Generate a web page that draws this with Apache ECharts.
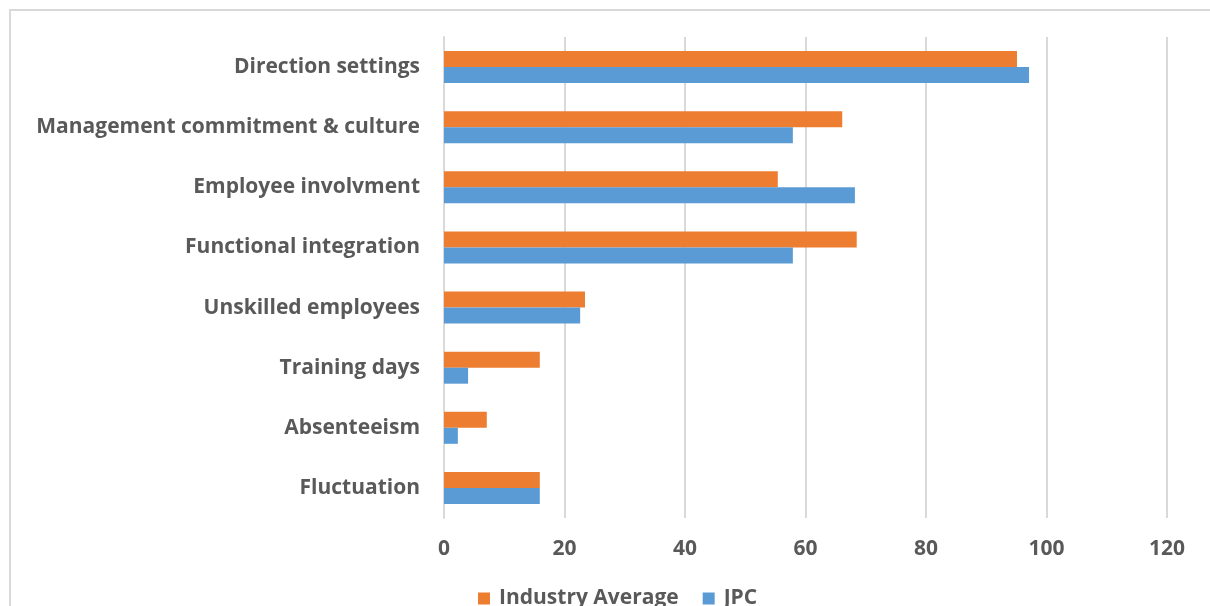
<!DOCTYPE html>
<html>
<head>
<meta charset="utf-8">
<script src="https://cdn.jsdelivr.net/npm/echarts@6/dist/echarts.min.js"></script>
<style>
  html, body { margin: 0; padding: 0; background: #fff; overflow: hidden; }
  .frame {
    position: absolute; left: 9px; top: 9px;
    width: 1220px; height: 620px;
    border: 2px solid #d9d9d9;
  }
  #chart { position: absolute; left: 0; top: 0; width: 1210px; height: 606px; }
</style>
</head>
<body>
<div class="frame"></div>
<div id="chart"></div>
<script>
// categories, top to bottom
const categories = [
  "Direction settings",
  "Management commitment & culture",
  "Employee involvment",
  "Functional integration",
  "Unskilled employees",
  "Training days",
  "Absenteeism",
  "Fluctuation",
];
const industryAverage = [95.1, 66.1, 55.4, 68.5, 23.4, 15.9, 7.1, 15.9];
const jpc = [97.1, 57.9, 68.2, 57.9, 22.6, 4.0, 2.3, 15.9];
const seriesNames = ["Industry Average", "JPC"];

const labelFont = {
  color: "#595959",
  fontFamily: "Open Sans",
  fontWeight: "bold",
  fontSize: 21,
};

const chart = echarts.init(document.getElementById("chart"));
chart.setOption({
  animation: false,
  color: ["#ed7d31", "#5b9bd5"],
  grid: { left: 444, right: 43, top: 37, bottom: 88, containLabel: false },
  legend: {
    data: seriesNames,
    bottom: -8,
    left: 473,
    itemWidth: 12,
    itemHeight: 12,
    itemGap: 24,
    icon: "rect",
    textStyle: Object.assign({ padding: [0, 0, 0, 4] }, labelFont),
  },
  xAxis: {
    type: "value",
    min: 0,
    max: 120,
    interval: 20,
    axisLine: { show: false },
    axisTick: { show: false },
    axisLabel: Object.assign({ margin: 21 }, labelFont),
    splitLine: { lineStyle: { color: "#d9d9d9", width: 2 } },
  },
  yAxis: {
    type: "category",
    inverse: true,
    data: categories,
    axisLine: { show: true, lineStyle: { color: "#d9d9d9", width: 2 } },
    axisTick: { show: false },
    axisLabel: Object.assign({ margin: 24, padding: [6, 0, 0, 0] }, labelFont),
  },
  series: [
    {
      name: seriesNames[0],
      type: "bar",
      data: industryAverage,
      barWidth: 16,
      barGap: "0%",
    },
    {
      name: seriesNames[1],
      type: "bar",
      data: jpc,
      barWidth: 16,
      barGap: "0%",
    },
  ],
});
</script>
</body>
</html>
